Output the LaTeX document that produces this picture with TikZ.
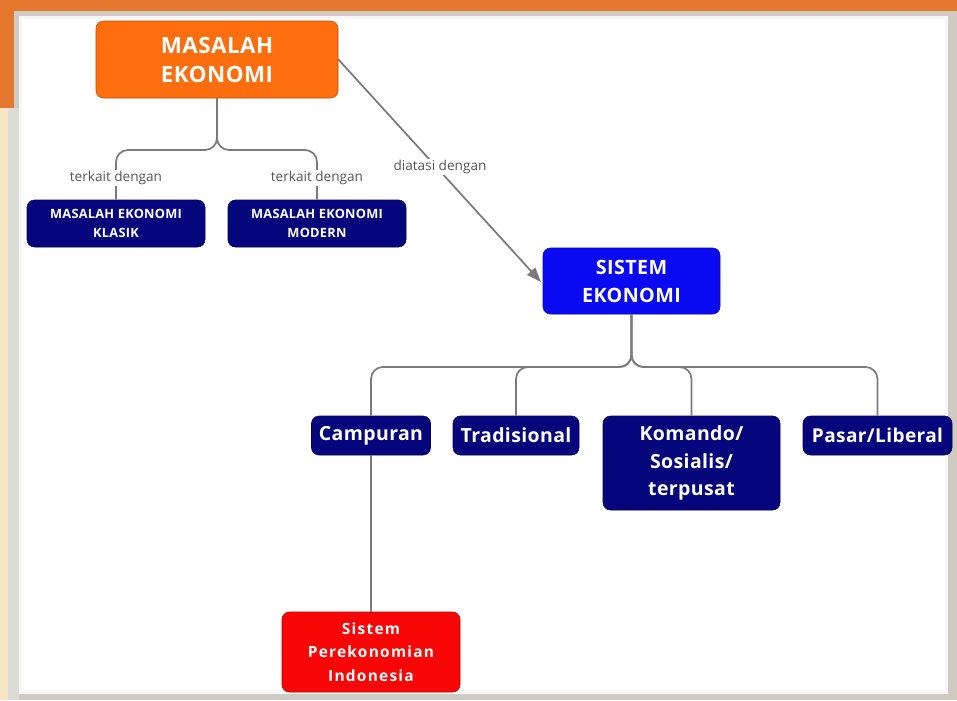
\documentclass[tikz,border=0pt]{standalone}
\usepackage{fontspec}
\setmainfont{Open Sans}
\newfontfamily\boxfont{Open Sans}[LetterSpace=2]
\newfontfamily\spifont{Open Sans}[LetterSpace=8]
\usetikzlibrary{arrows.meta}
\definecolor{frameorange}{HTML}{E4782F}
\definecolor{framebeige}{HTML}{F6E7C4}
\definecolor{frameshadow}{HTML}{CFCBC3}
\definecolor{meorange}{HTML}{FF6E0E}
\definecolor{navybox}{HTML}{06067C}
\definecolor{bluebox}{HTML}{0A0AF2}
\definecolor{redbox}{HTML}{F80606}
\definecolor{linegray}{HTML}{7A7A7A}
\definecolor{labelgray}{HTML}{555555}
\tikzset{
  box/.style={rounded corners=5.5, inner sep=0pt, align=center, text=white, draw=#1!70!black, line width=0.4pt, fill=#1},
  conn/.style={draw=linegray, line width=1.3pt},
  lbl/.style={fill=white, inner sep=1.2pt, text=labelgray, font=\fontsize{10.2}{11}\selectfont}
}
\begin{document}
\begin{tikzpicture}[x=0.75pt,y=-0.75pt]
% frame
\useasboundingbox (0,0) rectangle (957,700);
\fill[frameshadow] (0,0) rectangle (957,700);
\fill[frameorange] (0,0) rectangle (957,11);
\fill[frameorange] (0,0) rectangle (14,108);
\fill[framebeige] (0,108) rectangle (8,700);
\fill[frameshadow!70!white] (8,108) rectangle (19,700);
\fill[white!94!gray] (19,16) rectangle (948,694);
\fill[white] (22,19) rectangle (945,690);
% nodes
\node[box=meorange, minimum width=242*0.75pt, minimum height=77*0.75pt,
  font=\boxfont\bfseries\fontsize{16.8}{21.75}\selectfont] (me) at (217,59.5) {MASALAH\\EKONOMI};
\node[box=navybox, minimum width=178*0.75pt, minimum height=47*0.75pt,
  font=\boxfont\bfseries\fontsize{9.6}{14.25}\selectfont] (klasik) at (116,223.5) {MASALAH EKONOMI\\KLASIK};
\node[box=navybox, minimum width=178*0.75pt, minimum height=47*0.75pt,
  font=\boxfont\bfseries\fontsize{9.6}{14.25}\selectfont] (modern) at (317,223.5) {MASALAH EKONOMI\\MODERN};
\node[box=bluebox, minimum width=177*0.75pt, minimum height=66*0.75pt,
  font=\boxfont\bfseries\fontsize{14.8}{21}\selectfont] (se) at (631.5,281) {SISTEM\\EKONOMI};
\node[box=navybox, minimum width=119*0.75pt, minimum height=39*0.75pt,
  font=\boxfont\bfseries\fontsize{14.6}{20.6}\selectfont] (camp) at (371,435.5) {Campuran};
\node[box=navybox, minimum width=126*0.75pt, minimum height=39*0.75pt,
  font=\boxfont\bfseries\fontsize{14.6}{20.6}\selectfont] (trad) at (516,435.5) {Tradisional};
\node[box=navybox, minimum width=177*0.75pt, minimum height=94*0.75pt,
  font=\boxfont\bfseries\fontsize{14.6}{20.6}\selectfont] (kom) at (691.5,463) {Komando/\\Sosialis/\\terpusat};
\node[box=navybox, minimum width=149*0.75pt, minimum height=39*0.75pt,
  font=\boxfont\bfseries\fontsize{14.3}{20.6}\selectfont] (pasar) at (877.5,435.5) {Pasar/Liberal};
\node[box=redbox, minimum width=178*0.75pt, minimum height=80*0.75pt,
  font=\spifont\bfseries\fontsize{11.6}{17.6}\selectfont] (spi) at (371,652) {Sistem\\Perekonomian\\Indonesia};
% junction coordinates
\coordinate (mj) at (217,150);
\coordinate (sj) at (631.5,367);
% connectors
\draw[conn, rounded corners=9] (me.south) -- (mj) -| (klasik.north);
\draw[conn, rounded corners=9] (me.south) -- (mj) -| (modern.north);
\node[lbl] (l1) at (116,178) {terkait dengan};
\node[lbl] (l2) at (317,178) {terkait dengan};
\draw[conn, rounded corners=9] (se.south) -- (sj) -| (camp.north);
\draw[conn, rounded corners=9] (se.south) -- (sj) -| (trad.north);
\draw[conn, rounded corners=9] (se.south) -- (sj) -| (kom.north);
\draw[conn, rounded corners=9] (se.south) -- (sj) -| (pasar.north);
\draw[conn] (camp.south) -- (spi.north);
\coordinate (as) at (338,59);
\coordinate (ae) at (541,282);
\draw[conn, -{Triangle[length=11pt,width=8pt]}] (as) -- (ae);
\node[lbl] (l3) at (440,167) {diatasi dengan};
\end{tikzpicture}
\end{document}
